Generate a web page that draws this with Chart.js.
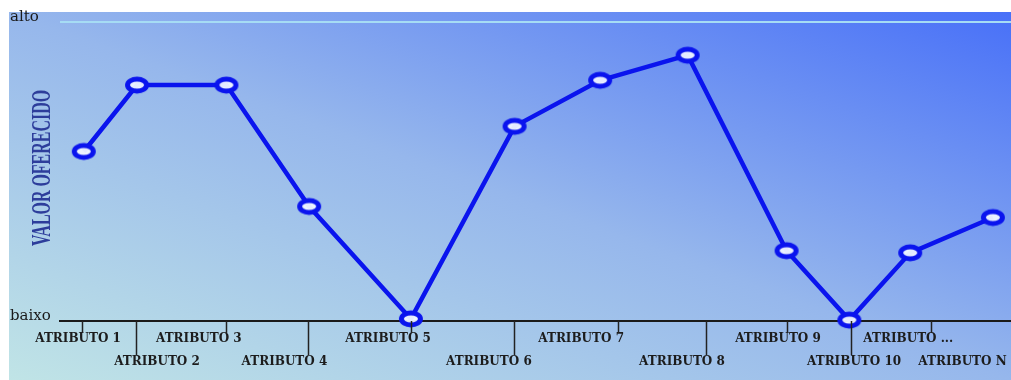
<!DOCTYPE html>
<html>
<head>
<meta charset="utf-8">
<script src="https://cdn.jsdelivr.net/npm/chart.js@4.4.1/dist/chart.umd.min.js"></script>
<style>
  html, body { margin: 0; padding: 0; background: #fff; }
  #wrap { position: relative; width: 1011px; height: 380px; }
  #panel {
    position: absolute; left: 9px; top: 12px; right: 0; bottom: 0;
    background: linear-gradient(to top right, #c0e4e6 0%, #96b7ec 50%, #4870f8 100%);
  }
  #chart { position: absolute; left: 0; top: 0; }
</style>
</head>
<body>
<div id="wrap">
  <div id="panel"></div>
  <canvas id="chart" width="1011" height="380"></canvas>
</div>
<script>
// position along the axis (0-100) and value (0 = baixo, 100 = alto)
const pointPos = [2.5, 8.1, 17.5, 26.2, 36.9, 47.8, 56.8, 66.0, 76.4, 83.0, 89.4, 98.1];
const pointValues = [56.7, 78.9, 78.9, 38.3, 0.7, 65.1, 80.5, 88.9, 23.5, 0.3, 22.8, 34.6];

const tickLabels = [
  "ATRIBUTO 1", "ATRIBUTO 2", "ATRIBUTO 3", "ATRIBUTO 4", "ATRIBUTO 5", "ATRIBUTO 6",
  "ATRIBUTO 7", "ATRIBUTO 8", "ATRIBUTO 9", "ATRIBUTO 10", "ATRIBUTO ...", "ATRIBUTO N",
];
const labelPos = [1.9, 10.2, 14.6, 23.6, 34.5, 45.1, 54.8, 65.4, 75.5, 83.5, 89.2, 94.9];
const labelLower = [false, true, false, true, false, true, false, true, false, true, false, true];

// little marks under the axis line
const markPos = [2.3, 8.0, 17.5, 26.1, 36.9, 47.7, 58.7, 67.9, 76.4, 83.2, 91.6];
const markLong = [false, true, false, true, false, true, false, true, false, true, false];

const yLabels = { 0: "baixo", 100: "alto" };
const yTitle = "VALOR OFERECIDO";

const BLUE = "#0a14ee";

// hollow, slightly wide ring used as point marker
const ring = document.createElement("canvas");
ring.width = 28;
ring.height = 20;
(() => {
  const c = ring.getContext("2d");
  c.beginPath();
  c.ellipse(14, 10, 9.5, 6, 0, 0, Math.PI * 2);
  c.fillStyle = "rgba(240,246,255,0.95)";
  c.fill();
  c.lineWidth = 5;
  c.strokeStyle = BLUE;
  c.stroke();
})();

const axisExtras = {
  id: "axisExtras",
  afterDraw(chart) {
    const { ctx, chartArea, scales } = chart;
    const x = scales.x;
    ctx.save();
    ctx.strokeStyle = "#222";
    ctx.lineWidth = 1.5;
    markPos.forEach((p, i) => {
      const px = Math.round(x.getPixelForValue(p)) + 0.5;
      ctx.beginPath();
      ctx.moveTo(px, chartArea.bottom);
      ctx.lineTo(px, chartArea.bottom + (markLong[i] ? 34 : 12));
      ctx.stroke();
    });
    // rotated axis title
    ctx.translate(43, 168);
    ctx.rotate(-Math.PI / 2);
    ctx.scale(0.57, 1);
    ctx.font = "bold 28px 'Liberation Serif'";
    ctx.fillStyle = "#2d3d9b";
    ctx.textAlign = "center";
    ctx.textBaseline = "middle";
    ctx.fillText(yTitle, 0, 0);
    ctx.restore();
  },
};

const data = pointPos.map((p, i) => ({ x: p, y: pointValues[i] }));

new Chart(document.getElementById("chart"), {
  type: "line",
  data: {
    datasets: [
      {
        data: data,
        borderColor: BLUE,
        borderWidth: 4.5,
        pointStyle: ring,
        pointRadius: 9,
        tension: 0,
        clip: false,
      },
    ],
  },
  options: {
    responsive: false,
    animation: false,
    layout: { autoPadding: false, padding: { left: 10, right: 0, top: 22, bottom: 1 } },
    plugins: { legend: { display: false }, tooltip: { enabled: false } },
    scales: {
      x: {
        type: "linear",
        min: 0,
        max: 100,
        afterBuildTicks: (axis) => {
          axis.ticks = labelPos.map((v) => ({ value: v }));
        },
        afterFit: (axis) => {
          axis.paddingLeft = 0;
          axis.paddingRight = 0;
        },
        grid: { display: true, drawOnChartArea: false, drawTicks: false, color: "transparent" },
        border: { display: true, color: "#1a1a1a", width: 2 },
        ticks: {
          autoSkip: false,
          maxRotation: 0,
          padding: 6,
          color: "#1c1c1c",
          font: { family: "'DejaVu Serif'", size: 12, weight: "bold", lineHeight: "23px" },
          callback: (value, index) => (labelLower[index] ? ["", tickLabels[index]] : tickLabels[index]),
        },
      },
      y: {
        min: 0,
        max: 100,
        afterBuildTicks: (axis) => {
          axis.ticks = [{ value: 0 }, { value: 100 }];
        },
        afterFit: (axis) => {
          axis.width = 50;
        },
        grid: {
          drawTicks: false,
          lineWidth: 2,
          color: (c) => (c.tick && c.tick.value === 100 ? "#a6dcf4" : "transparent"),
        },
        border: { display: false },
        ticks: {
          crossAlign: "far",
          padding: 8,
          labelOffset: -5,
          color: "#1a1a1a",
          font: { family: "'DejaVu Serif'", size: 15 },
          callback: (value) => yLabels[value],
        },
      },
    },
  },
  plugins: [axisExtras],
});
</script>
</body>
</html>
